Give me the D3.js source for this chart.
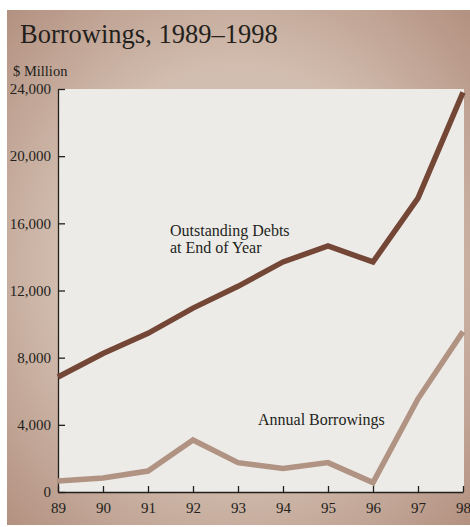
<!DOCTYPE html>
<html>
<head>
<meta charset="utf-8">
<script src="https://cdn.jsdelivr.net/npm/d3@7"></script>
<style>
  body { margin: 0; background: #fff; }
  text { font-family: "Liberation Serif", "DejaVu Serif", serif; fill: #231f1c; }
</style>
</head>
<body>
<div id="chart"></div>
<script>
// chart data
const years = ['89', '90', '91', '92', '93', '94', '95', '96', '97', '98'];
const outstandingDebts = [6850, 8250, 9450, 10950, 12250, 13700, 14650, 13700, 17500, 23800];
const annualBorrowings = [650, 830, 1250, 3100, 1750, 1400, 1750, 560, 5550, 9550];
const yTicks = [0, 4000, 8000, 12000, 16000, 20000, 24000];

const width = 470, height = 527;
const margin = { top: 89, right: 7, bottom: 35, left: 58 };

const svg = d3.select('#chart').append('svg')
    .attr('width', width)
    .attr('height', height);

// background panel with soft brown vignette
const defs = svg.append('defs');
const grad = defs.append('radialGradient')
    .attr('id', 'bg')
    .attr('cx', '50%').attr('cy', '50%').attr('r', '72%');
grad.append('stop').attr('offset', '0%').attr('stop-color', '#dccfc5');
grad.append('stop').attr('offset', '55%').attr('stop-color', '#d1bcae');
grad.append('stop').attr('offset', '100%').attr('stop-color', '#b28f7e');

svg.append('rect')
    .attr('x', 7).attr('y', 10)
    .attr('width', width - 7).attr('height', 515)
    .attr('fill', 'url(#bg)');

const x = d3.scalePoint()
    .domain(years)
    .range([margin.left, width - margin.right]);

const y = d3.scaleLinear()
    .domain([0, 24000])
    .range([height - margin.bottom, margin.top]);

// plot area
svg.append('rect')
    .attr('x', margin.left)
    .attr('y', margin.top)
    .attr('width', 464 - margin.left)
    .attr('height', y(0) - margin.top)
    .attr('fill', '#edebe7');

// title
svg.append('text')
    .attr('x', 20).attr('y', 43)
    .attr('font-size', 26.5)
    .text('Borrowings, 1989–1998');

svg.append('text')
    .attr('x', 13).attr('y', 76)
    .attr('font-size', 14.5)
    .text('$ Million');

// axes
const yAxis = svg.append('g')
    .attr('transform', `translate(${margin.left},0)`)
    .call(d3.axisLeft(y).tickValues(yTicks).tickSizeInner(-7).tickSizeOuter(0)
        .tickPadding(5).tickFormat(d3.format(',')));

const xAxis = svg.append('g')
    .attr('transform', `translate(0,${y(0)})`)
    .call(d3.axisBottom(x).tickSizeInner(-6).tickSizeOuter(0).tickPadding(6));

[xAxis, yAxis].forEach(g => {
    g.select('.domain').attr('stroke', '#231f1c').attr('stroke-width', 1.3);
    g.selectAll('.tick line').attr('stroke', '#231f1c').attr('stroke-width', 1.3);
    g.selectAll('.tick text')
        .attr('font-family', '"Liberation Serif", serif')
        .attr('font-size', 15)
        .attr('fill', '#231f1c');
});
yAxis.selectAll('.tick text').attr('dx', '-2');
xAxis.selectAll('.tick text').attr('dy', '1em');

// lines
const line = d3.line()
    .x((d, i) => x(years[i]))
    .y(d => y(d));

svg.append('path')
    .datum(annualBorrowings)
    .attr('d', line)
    .attr('fill', 'none')
    .attr('stroke', '#b09383')
    .attr('stroke-width', 5.5)
    .attr('stroke-linejoin', 'miter');

svg.append('path')
    .datum(outstandingDebts)
    .attr('d', line)
    .attr('fill', 'none')
    .attr('stroke', '#734636')
    .attr('stroke-width', 5.5)
    .attr('stroke-linejoin', 'miter');

// series labels
const debtLabel = svg.append('text')
    .attr('x', 170).attr('y', 236)
    .attr('font-size', 16);
debtLabel.append('tspan').attr('x', 170).text('Outstanding Debts');
debtLabel.append('tspan').attr('x', 170).attr('dy', 17).text('at End of Year');

svg.append('text')
    .attr('x', 258).attr('y', 425)
    .attr('font-size', 16)
    .text('Annual Borrowings');
</script>
</body>
</html>
